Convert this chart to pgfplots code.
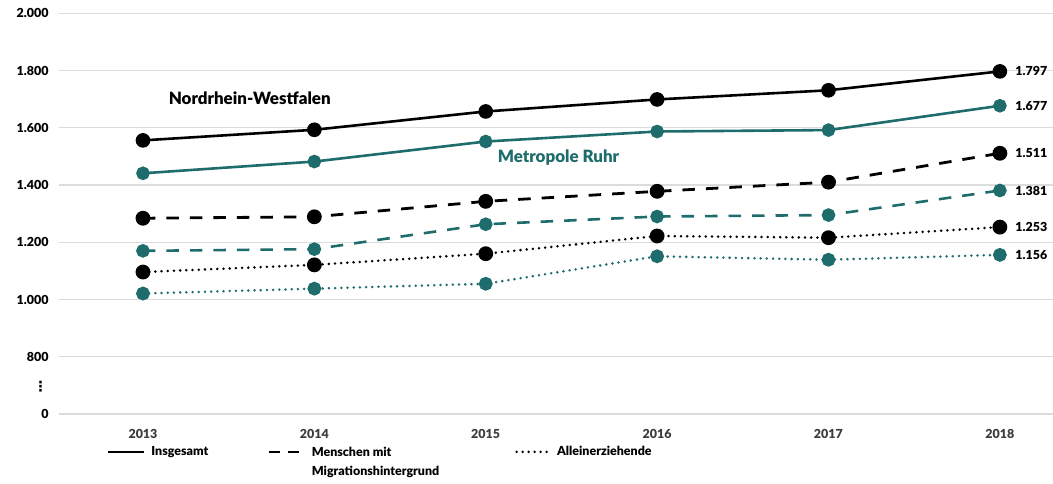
\documentclass[border=0pt]{standalone}
\usepackage{fontspec}
\setmainfont{Lato}[BoldFont={Lato Black}]
\newfontfamily\dejavu{DejaVu Sans}
\usepackage{pgfplots}
\pgfplotsset{compat=1.18}

\definecolor{ruhr}{RGB}{31,108,108}
\definecolor{gridgray}{RGB}{220,220,220}
\definecolor{yeargray}{RGB}{60,60,60}

% 0 is drawn at y=600 (axis break below 800)
\pgfplotstableread{
year nrw ruhr nrwmig ruhrmig nrwall ruhrall
2013 1556 1441 1284 1170 1096 1021
2014 1593 1482 1289 1176 1121 1038
2015 1657 1552 1343 1263 1160 1055
2016 1699 1587 1378 1290 1222 1151
2017 1731 1592 1410 1295 1216 1139
2018 1797 1677 1511 1381 1253 1156
}\data

\begin{document}
\begin{tikzpicture}[x=1bp,y=1bp]
\begin{axis}[
    name=ax,
    at={(0,0)}, anchor=south west,
    scale only axis,
    width=994bp, height=400.7bp,
    xmin=2012.51, xmax=2018.31,
    ymin=600, ymax=2000,
    clip=false,
    axis line style={draw=none},
    major tick length=0pt,
    xtick={2013,...,2018},
    xticklabel style={font=\bfseries\fontsize{12.5}{15}\selectfont, text=yeargray, yshift=-12bp},
    ytick={600,800,1000,1200,1400,1600,1800,2000},
    yticklabels={0,800,1.000,1.200,1.400,1.600,1.800,2.000},
    yticklabel style={font=\bfseries\fontsize{12.5}{15}\selectfont, xshift=-7bp},
    extra y ticks={697},
    extra y tick labels={{\dejavu\bfseries\fontsize{14}{15}\selectfont ⋮}},
    extra y tick style={grid=none, yticklabel style={xshift=-1bp}},
    ymajorgrids,
    major grid style={draw=gridgray, line width=1.3bp},
    /pgf/number format/assume math mode=true,
    /pgf/number format/1000 sep={},
    legend columns=3,
    legend cell align=left,
    legend style={at={(0.048,-0.075)}, anchor=north west, draw=none, fill=none,
        inner sep=0pt,
        font=\bfseries\fontsize{12.5}{14}\selectfont,
        /tikz/every odd column/.append style={column sep=4bp},
        /tikz/every even column/.append style={column sep=57bp}},
]
\addlegendimage{legend image code/.code={\draw[black, line width=2.5bp] (0bp,0bp) -- (36bp,0bp);}}
\addlegendentry{Insgesamt}
\addlegendimage{legend image code/.code={\draw[black, line width=2.5bp, dash pattern=on 11bp off 8bp] (0bp,0bp) -- (30bp,0bp);}}
\addlegendentry{\hspace*{6bp}\begin{tabular}[t]{@{}l@{}}Menschen mit\\[6bp]Migrationshintergrund\end{tabular}\hspace*{17bp}}
\addlegendimage{legend image code/.code={\draw[black, line width=2.8bp, line cap=round, dash pattern=on 0bp off 6bp] (1bp,0bp) -- (34bp,0bp);}}
\addlegendentry{Alleinerziehende}

% Alleinerziehende
\addplot[forget plot, ruhr, line width=2.8bp, line cap=round, dash pattern=on 0bp off 6.2bp,
    mark=*, mark size=5.5bp, mark options={solid, fill=ruhr, draw=ruhr}] table[x=year,y=ruhrall] {\data};
\addplot[forget plot, black, line width=2.8bp, line cap=round, dash pattern=on 0bp off 6.2bp,
    mark=*, mark size=6bp, mark options={solid, fill=black}] table[x=year,y=nrwall] {\data};
% Migrationshintergrund
\addplot[forget plot, ruhr, line width=2.6bp, dash pattern=on 12.5bp off 11bp,
    mark=*, mark size=5.5bp, mark options={solid, fill=ruhr, draw=ruhr}] table[x=year,y=ruhrmig] {\data};
\addplot[forget plot, black, line width=2.8bp, dash pattern=on 12.5bp off 11bp,
    mark=*, mark size=6bp, mark options={solid, fill=black}] table[x=year,y=nrwmig] {\data};
% Insgesamt
\addplot[forget plot, ruhr, line width=2.6bp,
    mark=*, mark size=5.5bp, mark options={solid, fill=ruhr, draw=ruhr}] table[x=year,y=ruhr] {\data};
\addplot[forget plot, black, line width=2.6bp,
    mark=*, mark size=6bp, mark options={solid, fill=black}] table[x=year,y=nrw] {\data};

\node[anchor=west, font=\bfseries\fontsize{17}{19}\selectfont] at (axis cs:2013.13,1703) {Nordrhein-Westfalen};
\node[anchor=west, font=\bfseries\fontsize{17}{19}\selectfont, text=ruhr] at (axis cs:2015.05,1496) {Metropole Ruhr};

\begin{scope}[every node/.style={anchor=west, xshift=12bp, font=\bfseries\fontsize{12.5}{15}\selectfont}]
\node at (axis cs:2018,1797) {1.797};
\node at (axis cs:2018,1677) {1.677};
\node at (axis cs:2018,1511) {1.511};
\node at (axis cs:2018,1381) {1.381};
\node at (axis cs:2018,1253) {1.253};
\node at (axis cs:2018,1156) {1.156};
\end{scope}
\end{axis}
\pgfresetboundingbox
\path ([xshift=-59bp,yshift=-69bp]ax.south west) rectangle ([yshift=13.3bp]ax.north east);
\end{tikzpicture}
\end{document}
